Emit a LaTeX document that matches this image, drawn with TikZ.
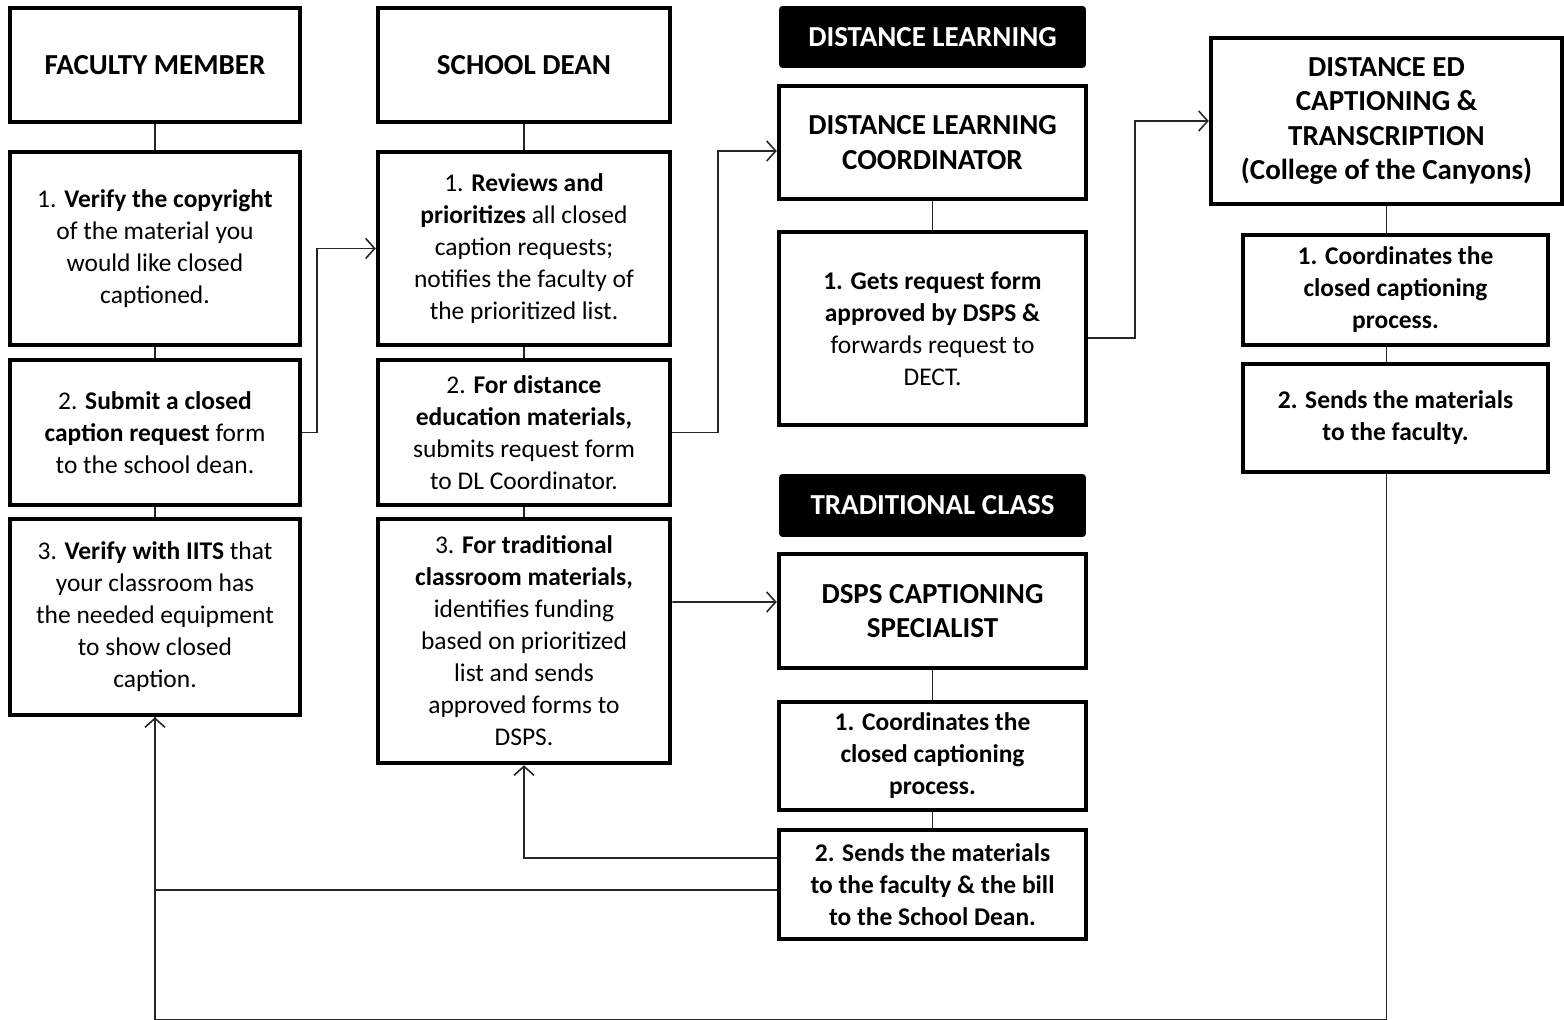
\documentclass[tikz,border=0pt]{standalone}
\usepackage{fontspec}
\setmainfont{Carlito}
\usetikzlibrary{arrows.meta}

\begin{document}
\begin{tikzpicture}[x=0.02cm, y=-0.02cm,
    box/.style={draw=black, line width=2.6pt, align=center, inner sep=0pt, font=\fontsize{14.5}{18.2}\selectfont},
    title/.style={box, font=\fontsize{16.5}{19.5}\selectfont\bfseries},
    band/.style={fill=black, text=white, rounded corners=2pt, align=center, minimum width=6.14cm, minimum height=1.24cm, font=\fontsize{16.5}{19.5}\selectfont\bfseries},
    link/.style={line width=0.9pt, draw=black!85},
    arrow/.style={link, -{Straight Barb[length=0.18cm, width=0.4cm]}}]
    \useasboundingbox (0,0) rectangle (1564,1020);

    \node[title, minimum width=5.8cm, minimum height=2.28cm](fm) at (155, 65){FACULTY MEMBER};
    \node[box, minimum width=5.8cm, minimum height=3.86cm](fm1) at (155, 248.5){1. \textbf{Verify the copyright}\\ of the material you\\ would like closed\\ captioned.};
    \node[box, minimum width=5.8cm, minimum height=2.9cm](fm2) at (155, 432.5){2. \textbf{Submit a closed}\\ \textbf{caption request} form\\ to the school dean.};
    \node[box, minimum width=5.8cm, minimum height=3.92cm](fm3) at (155, 617){3. \textbf{Verify with IITS} that\\ your classroom has\\ the needed equipment\\ to show closed\\ caption.};

    \node[title, minimum width=5.84cm, minimum height=2.28cm](sd) at (524, 65){SCHOOL DEAN};
    \node[box, minimum width=5.84cm, minimum height=3.86cm](sd1) at (524, 248.5){1. \textbf{Reviews and}\\ \textbf{prioritizes} all closed\\ caption requests;\\ notifies the faculty of\\ the prioritized list.};
    \node[box, minimum width=5.84cm, minimum height=2.9cm](sd2) at (524, 432.5){2. \textbf{For distance}\\ \textbf{education materials,}\\ submits request form\\ to DL Coordinator.};
    \node[box, minimum width=5.84cm, minimum height=4.88cm](sd3) at (524, 641){3. \textbf{For traditional}\\ \textbf{classroom materials,}\\ identifies funding\\ based on prioritized\\ list and sends\\ approved forms to\\ DSPS.};

    \node[band](dlhead) at (932.5, 37){DISTANCE LEARNING};
    \node[title, minimum width=6.14cm, minimum height=2.26cm](dlc) at (932.5, 142.5){DISTANCE LEARNING\\ COORDINATOR};
    \node[box, minimum width=6.14cm, minimum height=3.86cm](dl1) at (932.5, 328.5){\textbf{1. Gets request form}\\ \textbf{approved by DSPS \&}\\ forwards request to\\ DECT.};

    \node[band, minimum height=1.26cm](tchead) at (932.5, 505.5){TRADITIONAL CLASS};
    \node[title, minimum width=6.14cm, minimum height=2.28cm](dsps) at (932.5, 611){DSPS CAPTIONING\\ SPECIALIST};
    \node[box, font=\fontsize{14.5}{18.2}\selectfont\bfseries, minimum width=6.14cm, minimum height=2.16cm](dsps1) at (932.5, 756){1. Coordinates the\\ closed captioning\\ process.};
    \node[box, font=\fontsize{14.5}{18.2}\selectfont\bfseries, minimum width=6.14cm, minimum height=2.18cm](dsps2) at (932.5, 884.5){2. Sends the materials\\ to the faculty \& the bill\\ to the School Dean.};

    \node[title, minimum width=7.02cm, minimum height=3.32cm](dect) at (1386.5, 121){DISTANCE ED\\ CAPTIONING \&\\ TRANSCRIPTION\\ (College of the Canyons)};
    \node[box, font=\fontsize{14.5}{18.2}\selectfont\bfseries, minimum width=6.1cm, minimum height=2.2cm](dect1) at (1395.5, 290){1. Coordinates the\\ closed captioning\\ process.};
    \node[box, font=\fontsize{14.5}{18.2}\selectfont\bfseries, minimum width=6.1cm, minimum height=2.16cm](dect2) at (1395.5, 418){2. Sends the materials\\ to the faculty.};

    \draw[link] (fm) -- (fm1);
    \draw[link] (fm1) -- (fm2);
    \draw[link] (fm2) -- (fm3);
    \draw[link] (sd) -- (sd1);
    \draw[link] (sd1) -- (sd2);
    \draw[link] (sd2) -- (sd3);
    \draw[link] (dlc) -- (dl1);
    \draw[link] (dsps) -- (dsps1);
    \draw[link] (dsps1) -- (dsps2);
    \draw[link] (dect.south) -- (dect.south |- dect1.north);
    \draw[link] (dect.south |- dect1.south) -- (dect.south |- dect2.north);

    \draw[arrow] (fm2.east) -- ++(15, 0) |- (sd1.west);
    \draw[arrow] (sd2.east) -- ++(46, 0) |- ([yshift=-0.17cm]dlc.west);
    \draw[arrow] (sd3.east |- dsps.west) ++(0, -9) -- ([yshift=0.18cm]dsps.west);
    \draw[arrow] ([yshift=-0.19cm]dl1.east) -- ++(47, 0) |- (dect.west);

    \draw[arrow] ([yshift=0.53cm]dsps2.west) -| (sd3.south);
    \draw[link] ([yshift=-0.11cm]dsps2.west) -| (fm3.south);
    \draw[arrow] (dect.south |- dect2.south) -- ++(0, 546) -| (fm3.south);
  \end{tikzpicture}
\end{document}
